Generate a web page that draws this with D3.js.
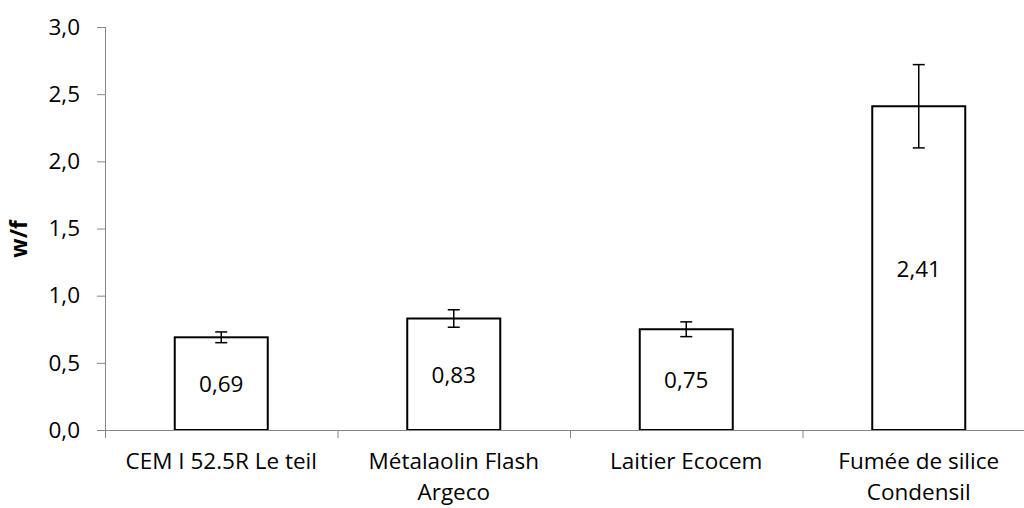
<!DOCTYPE html>
<html>
<head>
<meta charset="utf-8">
<script src="https://cdn.jsdelivr.net/npm/d3@7"></script>
<style>
  html, body { margin: 0; padding: 0; background: #fff; }
  svg { display: block; }
  text { font-family: "Open Sans", "Liberation Sans", sans-serif; fill: #000; }
</style>
</head>
<body>
<svg id="chart" width="1024" height="508"></svg>
<script>
const categories = ["CEM I 52.5R Le teil", "Métalaolin Flash Argeco", "Laitier Ecocem", "Fumée de silice Condensil"];
const values = [0.69, 0.83, 0.75, 2.41];
const errors = [0.04, 0.065, 0.055, 0.31];
const valueLabels = ["0,69", "0,83", "0,75", "2,41"];
const yTicks = [0, 0.5, 1.0, 1.5, 2.0, 2.5, 3.0];
const yTitle = "w/f";

const svg = d3.select("#chart");
const fontSize = 22.5;
const axisColor = "#868686";

const x = d3.scaleBand().domain(categories).range([105, 1035]).paddingInner(0.6).paddingOuter(0.3);
const y = d3.scaleLinear().domain([0, 3]).range([430, 27]);
const step = x.step();

// Bars
const g = svg.append("g");
g.selectAll("rect.bar").data(categories).join("rect")
  .attr("class", "bar")
  .attr("x", d => x(d))
  .attr("y", (d, i) => y(values[i]))
  .attr("width", x.bandwidth())
  .attr("height", (d, i) => y(0) - y(values[i]))
  .attr("fill", "#fff")
  .attr("stroke", "#000")
  .attr("stroke-width", 2);

// Value labels (centered in bar)
g.selectAll("text.val").data(categories).join("text")
  .attr("class", "val")
  .attr("x", d => x(d) + x.bandwidth() / 2)
  .attr("y", (d, i) => (y(values[i]) + y(0)) / 2)
  .attr("text-anchor", "middle")
  .attr("dominant-baseline", "central")
  .attr("font-size", fontSize)
  .text((d, i) => valueLabels[i]);

// Error bars
const eb = g.selectAll("g.err").data(categories).join("g").attr("class", "err")
  .attr("stroke", "#000").attr("stroke-width", 1.5);
eb.append("line")
  .attr("x1", d => x(d) + x.bandwidth() / 2).attr("x2", d => x(d) + x.bandwidth() / 2)
  .attr("y1", (d, i) => y(values[i] + errors[i])).attr("y2", (d, i) => y(values[i] - errors[i]));
eb.append("line")
  .attr("x1", d => x(d) + x.bandwidth() / 2 - 6).attr("x2", d => x(d) + x.bandwidth() / 2 + 6)
  .attr("y1", (d, i) => y(values[i] + errors[i])).attr("y2", (d, i) => y(values[i] + errors[i]));
eb.append("line")
  .attr("x1", d => x(d) + x.bandwidth() / 2 - 6).attr("x2", d => x(d) + x.bandwidth() / 2 + 6)
  .attr("y1", (d, i) => y(values[i] - errors[i])).attr("y2", (d, i) => y(values[i] - errors[i]));

// Y axis
const yAxis = svg.append("g").attr("transform", "translate(105,0)")
  .call(d3.axisLeft(y).tickValues(yTicks).tickSize(8).tickPadding(17)
    .tickFormat(d => d3.format(".1f")(d).replace(".", ",")));
yAxis.select(".domain").attr("stroke", axisColor).attr("d", "M0.5,27V438");
yAxis.selectAll(".tick line").attr("stroke", axisColor);
yAxis.selectAll(".tick text").attr("font-size", fontSize).attr("font-family", "Open Sans");

// X axis: category boundary ticks
const xAxis = svg.append("g");
xAxis.append("line").attr("x1", 105).attr("x2", 1035).attr("y1", y(0) + 0.5).attr("y2", y(0) + 0.5)
  .attr("stroke", axisColor);
const bounds = d3.range(1, categories.length + 1).map(i => x.range()[0] + i * step);
xAxis.selectAll("line.b").data(bounds).join("line").attr("class", "b")
  .attr("x1", d => d + 0.5).attr("x2", d => d + 0.5)
  .attr("y1", y(0)).attr("y2", y(0) + 8).attr("stroke", axisColor);

// X labels with wrapping
const maxW = step - 10;
const firstBase = 469;
const lineGap = 31;
categories.forEach(cat => {
  const cx = x(cat) + x.bandwidth() / 2;
  const t = xAxis.append("text").attr("text-anchor", "middle").attr("font-size", fontSize)
    .attr("x", cx).attr("y", firstBase);
  const words = cat.split(" ");
  let line = [];
  let lineNo = 0;
  let tspan = t.append("tspan").attr("x", cx).attr("y", firstBase);
  words.forEach(w => {
    line.push(w);
    tspan.text(line.join(" "));
    if (tspan.node().getComputedTextLength() > maxW && line.length > 1) {
      line.pop();
      tspan.text(line.join(" "));
      line = [w];
      lineNo++;
      tspan = t.append("tspan").attr("x", cx).attr("y", firstBase + lineNo * lineGap).text(w);
    }
  });
});

// Y title
svg.append("text")
  .attr("transform", "translate(27,239) rotate(-90)")
  .attr("text-anchor", "middle")
  .attr("font-size", fontSize)
  .attr("font-weight", "bold")
  .text(yTitle);
</script>
</body>
</html>
